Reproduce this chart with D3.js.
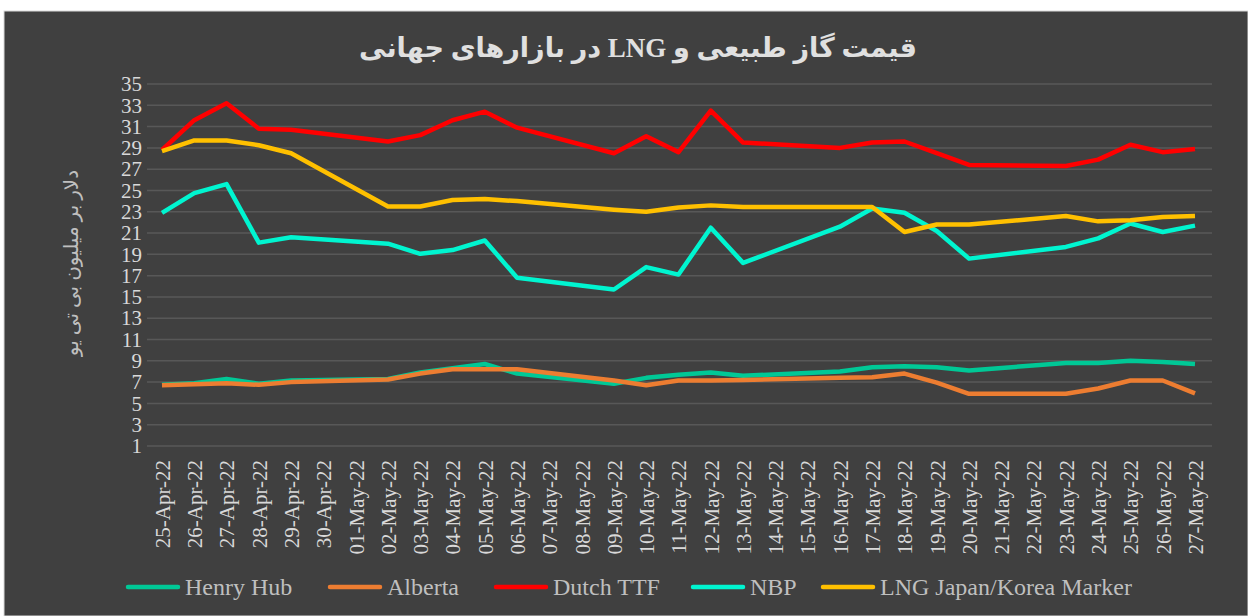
<!DOCTYPE html>
<html>
<head>
<meta charset="utf-8">
<script src="https://cdn.jsdelivr.net/npm/d3@7"></script>
<style>
  body { margin: 0; background: #ffffff; }
</style>
</head>
<body>
<svg id="chart"></svg>
<script>
// all dates on the axis
const categories = [
  "25-Apr-22", "26-Apr-22", "27-Apr-22", "28-Apr-22", "29-Apr-22", "30-Apr-22",
  "01-May-22", "02-May-22", "03-May-22", "04-May-22", "05-May-22", "06-May-22",
  "07-May-22", "08-May-22", "09-May-22", "10-May-22", "11-May-22", "12-May-22",
  "13-May-22", "14-May-22", "15-May-22", "16-May-22", "17-May-22", "18-May-22",
  "19-May-22", "20-May-22", "21-May-22", "22-May-22", "23-May-22", "24-May-22",
  "25-May-22", "26-May-22", "27-May-22"
];

// trading days that carry a price
const tradingDays = [
  "25-Apr-22", "26-Apr-22", "27-Apr-22", "28-Apr-22", "29-Apr-22",
  "02-May-22", "03-May-22", "04-May-22", "05-May-22", "06-May-22",
  "09-May-22", "10-May-22", "11-May-22", "12-May-22", "13-May-22",
  "16-May-22", "17-May-22", "18-May-22", "19-May-22", "20-May-22",
  "23-May-22", "24-May-22", "25-May-22", "26-May-22", "27-May-22"
];

const henryHub = [6.75, 6.9, 7.3, 6.85, 7.15, 7.3, 7.9, 8.3, 8.7, 7.8,
  6.85, 7.4, 7.7, 7.9, 7.6, 8.0, 8.4, 8.5, 8.4, 8.1, 8.8, 8.8, 9.0, 8.9, 8.7];
const alberta = [6.7, 6.8, 6.9, 6.75, 7.0, 7.25, 7.8, 8.2, 8.2, 8.2,
  7.15, 6.7, 7.15, 7.15, 7.2, 7.4, 7.45, 7.8, 6.95, 5.9, 5.9, 6.4, 7.15, 7.15, 5.95];
const dutchTTF = [28.8, 31.6, 33.2, 30.8, 30.7, 29.6, 30.2, 31.6, 32.4, 30.9,
  28.5, 30.1, 28.6, 32.5, 29.5, 29.0, 29.5, 29.6, 28.5, 27.4, 27.3, 27.9, 29.3, 28.6, 28.9];
const nbp = [22.9, 24.75, 25.6, 20.1, 20.6, 20.0, 19.05, 19.4, 20.3, 16.8,
  15.7, 17.8, 17.1, 21.5, 18.2, 21.6, 23.3, 22.9, 21.2, 18.6, 19.7, 20.5, 21.9, 21.1, 21.7];
const lngMarker = [28.7, 29.7, 29.7, 29.25, 28.5, 23.5, 23.5, 24.1, 24.2, 24.0,
  23.2, 23.0, 23.4, 23.6, 23.45, 23.45, 23.45, 21.1, 21.8, 21.8, 22.6, 22.1, 22.2, 22.5, 22.6];

const seriesNames = ["Henry Hub", "Alberta", "Dutch TTF", "NBP", "LNG Japan/Korea Marker"];
const seriesValues = [henryHub, alberta, dutchTTF, nbp, lngMarker];
const seriesColors = ["#00c896", "#ed7d31", "#ff0000", "#00f5d0", "#ffc000"];

const yTicks = d3.range(1, 36, 2);

const serif = "'Liberation Serif', 'Times New Roman', serif";
const persian = "'Liberation Serif', 'DejaVu Serif', 'DejaVu Sans', serif";

const width = 1248, height = 616;
const margin = {top: 84, right: 53, bottom: 170, left: 162};

const svg = d3.select("svg#chart")
  .attr("width", width)
  .attr("height", height);

// chart background
svg.append("rect")
  .attr("x", 4).attr("y", 11)
  .attr("width", width - 4).attr("height", height - 11)
  .attr("fill", "#404040")
  .attr("stroke", "#d9d9d9")
  .attr("stroke-width", 1);

const xScale = d3.scalePoint()
  .domain(categories)
  .range([margin.left, width - margin.right]);

const yScale = d3.scaleLinear()
  .domain([1, 35])
  .range([446, margin.top]);

// gridlines
svg.append("g")
  .selectAll("line")
  .data(yTicks)
  .enter().append("line")
  .attr("x1", 147)
  .attr("x2", 1212)
  .attr("y1", (d) => yScale(d))
  .attr("y2", (d) => yScale(d))
  .attr("stroke", "#585858")
  .attr("stroke-width", 1.5);

// y axis
const yAxis = svg.append("g")
  .attr("transform", "translate(147,0)")
  .call(d3.axisLeft(yScale).tickValues(yTicks).tickSize(0).tickPadding(5));
yAxis.select(".domain").remove();
yAxis.selectAll("text")
  .attr("fill", "#d9d9d9")
  .style("font-size", "21px")
  .style("font-family", serif);

// x axis
const xAxis = svg.append("g")
  .attr("transform", "translate(0,446)")
  .call(d3.axisBottom(xScale).tickSize(0));
xAxis.select(".domain").remove();
xAxis.selectAll("text")
  .attr("fill", "#d9d9d9")
  .style("font-size", "21px")
  .style("font-family", serif)
  .attr("text-anchor", "end")
  .attr("dy", "0.35em")
  .attr("transform", "translate(0,14) rotate(-90)")
  .attr("x", 0)
  .attr("y", 0);

// lines
const line = d3.line()
  .x((d) => xScale(d.date))
  .y((d) => yScale(d.value));

seriesValues.forEach((values, i) => {
  const pts = tradingDays.map((date, j) => ({date: date, value: values[j]}));
  svg.append("path")
    .datum(pts)
    .attr("d", line)
    .attr("fill", "none")
    .attr("stroke", seriesColors[i])
    .attr("stroke-width", 4.5)
    .attr("stroke-linejoin", "round");
});

// title
svg.append("text")
  .attr("x", 638)
  .attr("y", 57)
  .attr("text-anchor", "middle")
  .attr("direction", "rtl")
  .style("font-size", "27px")
  .style("font-weight", "bold")
  .style("font-family", persian)
  .attr("fill", "#e0e0e0")
  .text("قیمت گاز طبیعی و LNG در بازارهای جهانی");

// y axis title
svg.append("text")
  .attr("transform", "translate(78,263) rotate(-90)")
  .attr("text-anchor", "middle")
  .attr("direction", "rtl")
  .style("font-size", "20px")
  .style("font-family", persian)
  .attr("fill", "#bfbfbf")
  .text("دلار بر میلیون بی تی یو");

// legend
const legendX = [128, 330, 496, 693, 823];
const legend = svg.append("g")
  .selectAll("g")
  .data(seriesNames)
  .enter().append("g")
  .attr("transform", (d, i) => "translate(" + legendX[i] + ",587)");

legend.append("line")
  .attr("x1", 0).attr("x2", 50)
  .attr("stroke", (d, i) => seriesColors[i])
  .attr("stroke-width", 4.5)
  .attr("stroke-linecap", "round");

legend.append("text")
  .attr("x", 57)
  .attr("dy", "0.35em")
  .style("font-size", "24px")
  .style("font-family", serif)
  .attr("fill", "#bfbfbf")
  .text((d) => d);
</script>
</body>
</html>
